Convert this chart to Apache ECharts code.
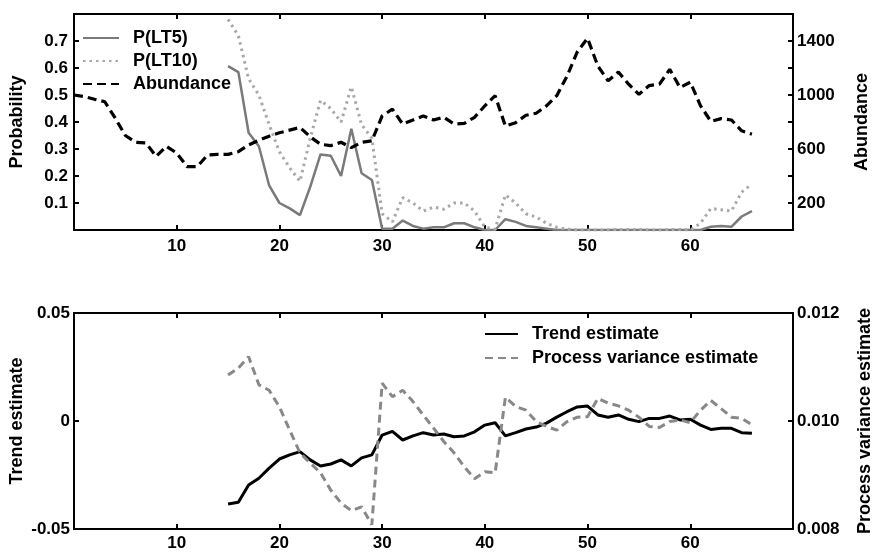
<!DOCTYPE html>
<html>
<head>
<meta charset="utf-8">
<script src="https://cdn.jsdelivr.net/npm/echarts@6/dist/echarts.min.js"></script>
<style>
    html, body { margin: 0; padding: 0; background: #fff; }
    #main { width: 872px; height: 554px; }
</style>
</head>
<body>
<div id="main"></div>
<script>
// years start at 0 for abundance, at 15 for the model estimates
var abundanceStart = 0;
var estimateStart = 15;

var abundance = [1000, 988, 968, 950, 830, 700, 650, 645, 545, 620, 570, 470, 470, 555, 560,
    560, 580, 630, 665, 695, 720, 740, 760, 690, 635, 625, 650, 610, 650, 660,
    845, 895, 785, 815, 845, 815, 835, 785, 790, 835, 920, 995, 770, 795, 850,
    865, 920, 995, 1140, 1320, 1420, 1215, 1105, 1170, 1080, 1005, 1070, 1080, 1190, 1055,
    1095, 920, 805, 825, 815, 735, 710];

var pLT5 = [0.607, 0.585, 0.36, 0.31, 0.165, 0.10, 0.08, 0.055, 0.16, 0.28,
    0.275, 0.20, 0.375, 0.21, 0.185, 0.005, 0.005, 0.035, 0.015, 0.005,
    0.01, 0.01, 0.025, 0.025, 0.01, 0, 0, 0.04, 0.03, 0.015,
    0.01, 0.005, 0, 0, 0, 0, 0, 0, 0, 0,
    0, 0, 0, 0, 0, 0, 0, 0.012, 0.015, 0.012,
    0.05, 0.07];

var pLT10 = [0.78, 0.72, 0.56, 0.5, 0.39, 0.29, 0.23, 0.18, 0.34, 0.48,
    0.45, 0.40, 0.53, 0.39, 0.34, 0.06, 0.03, 0.12, 0.10, 0.07,
    0.085, 0.077, 0.10, 0.10, 0.07, 0.01, 0.003, 0.13, 0.10, 0.06,
    0.048, 0.025, 0.01, 0.003, 0, 0, 0, 0, 0.002, 0.002,
    0.002, 0, 0, 0.002, 0.002, 0, 0.025, 0.08, 0.075, 0.07,
    0.14, 0.17];

var trend = [-0.0384, -0.0376, -0.0296, -0.0265, -0.0218, -0.0176, -0.0157, -0.0142, -0.018, -0.0208,
    -0.0199, -0.018, -0.0208, -0.0171, -0.0157, -0.0065, -0.0048, -0.0088, -0.0069, -0.0054,
    -0.0065, -0.006, -0.0073, -0.0069, -0.005, -0.0019, -0.0008, -0.0069, -0.0054, -0.0037,
    -0.0028, -0.001, 0.0018, 0.0043, 0.0065, 0.0069, 0.0028, 0.0017, 0.0028, 0.0008,
    -0.0003, 0.0012, 0.0012, 0.0023, 0.0005, 0.0008, -0.0019, -0.0039, -0.0034, -0.0034,
    -0.0054, -0.0057];

var procVar = [0.01085, 0.01098, 0.01119, 0.01067, 0.01057, 0.01026, 0.00983, 0.00941, 0.00922, 0.00904,
    0.00872, 0.00848, 0.00834, 0.00841, 0.00808, 0.0107, 0.01045, 0.01057, 0.01036, 0.01011,
    0.00987, 0.00962, 0.00941, 0.00915, 0.00893, 0.00906, 0.00904, 0.01044, 0.01027, 0.0102,
    0.00999, 0.0099, 0.00983, 0.00999, 0.01007, 0.01008, 0.01042, 0.01033, 0.01028, 0.0102,
    0.01007, 0.0099, 0.00988, 0.00999, 0.01002, 0.00997, 0.0102, 0.01038, 0.01023, 0.01007,
    0.01005, 0.00993];

var xTicks = [10, 20, 30, 40, 50, 60];
var abundanceLabels = [200, 600, 1000, 1400];

function toPairs(start, values) {
    return values.map(function (v, i) {
        return [start + i, v];
    });
}

var font = 'Liberation Sans, Arial, sans-serif';
var tickFont = { fontFamily: font, fontWeight: 'bold', fontSize: 17, color: '#000' };
var nameFont = { fontFamily: font, fontWeight: 'bold', fontSize: 18, color: '#000' };
var legendFont = { fontFamily: font, fontWeight: 'bold', fontSize: 18, color: '#000', padding: [0, 0, 0, 9] };
var tickStyle = { show: true, inside: true, length: 5, lineStyle: { color: '#000', width: 2 } };

function xAxisFor(gridIndex, pos, margin) {
    return {
        type: 'value', gridIndex: gridIndex, position: pos,
        min: 0, max: 70, interval: 10,
        axisLine: { show: false, onZero: false },
        axisTick: tickStyle,
        splitLine: { show: false },
        axisLabel: {
            show: pos === 'bottom', margin: margin, fontFamily: font, fontWeight: 'bold', fontSize: 17, color: '#000',
            formatter: function (v) { return xTicks.indexOf(v) >= 0 ? String(v) : ''; }
        }
    };
}

function yAxisFor(gridIndex, pos, min, max, interval, name, gap, margin, fmt) {
    return {
        type: 'value', gridIndex: gridIndex, position: pos,
        min: min, max: max, interval: interval,
        name: name, nameLocation: 'middle', nameGap: gap, nameRotate: 90,
        nameMoveOverlap: false, nameTextStyle: nameFont,
        axisLine: { show: false, onZero: false }, axisTick: tickStyle, splitLine: { show: false },
        axisLabel: Object.assign({ margin: margin, formatter: fmt }, tickFont)
    };
}

var myChart = echarts.init(document.getElementById('main'));

var option = {
    animation: false,
    backgroundColor: '#fff',
    grid: [
        { left: 74, right: 79, top: 14, height: 216, show: true, borderColor: '#000', borderWidth: 2, outerBoundsMode: 'none' },
        { left: 74, right: 79, top: 313, height: 216, show: true, borderColor: '#000', borderWidth: 2, outerBoundsMode: 'none' }
    ],
    legend: [
        {
            data: ['P(LT5)', 'P(LT10)', 'Abundance'],
            orient: 'vertical', left: 77, top: 24,
            itemWidth: 36, itemHeight: 12, itemGap: 5,
            itemStyle: { opacity: 0 },
            textStyle: legendFont
        },
        {
            data: ['Trend estimate', 'Process variance estimate'],
            orient: 'vertical', left: 479, top: 320,
            itemWidth: 33, itemHeight: 12, itemGap: 6,
            itemStyle: { opacity: 0 },
            textStyle: legendFont
        }
    ],
    xAxis: [
        xAxisFor(0, 'bottom', 8),
        xAxisFor(0, 'top', 8),
        xAxisFor(1, 'bottom', 6),
        xAxisFor(1, 'top', 6)
    ],
    yAxis: [
        yAxisFor(0, 'left', 0, 0.8, 0.1, 'Probability', 48, 6, function (v) {
            return (v < 0.05 || v > 0.75) ? '' : v.toFixed(1);
        }),
        yAxisFor(0, 'right', 0, 1600, 200, 'Abundance', 60, 4, function (v) {
            return abundanceLabels.indexOf(v) >= 0 ? String(v) : '';
        }),
        yAxisFor(1, 'left', -0.05, 0.05, 0.05, 'Trend estimate', 48, 4, function (v) {
            return Math.abs(v) < 1e-9 ? '0' : v.toFixed(2);
        }),
        yAxisFor(1, 'right', 0.008, 0.012, 0.002, 'Process variance estimate', 63, 4, function (v) {
            return v.toFixed(3);
        })
    ],
    series: [
        {
            name: 'P(LT5)', type: 'line', xAxisIndex: 0, yAxisIndex: 0,
            data: toPairs(estimateStart, pLT5), symbol: 'none',
            lineStyle: { color: '#7a7a7a', width: 2.5 }, itemStyle: { color: '#7a7a7a' }
        },
        {
            name: 'P(LT10)', type: 'line', xAxisIndex: 0, yAxisIndex: 0,
            data: toPairs(estimateStart, pLT10), symbol: 'none',
            lineStyle: { color: '#a8a8a8', width: 3, type: [2.5, 4] }, itemStyle: { color: '#a8a8a8' }
        },
        {
            name: 'Abundance', type: 'line', xAxisIndex: 0, yAxisIndex: 1,
            data: toPairs(abundanceStart, abundance), symbol: 'none',
            lineStyle: { color: '#000', width: 3.2, type: [9, 5] }, itemStyle: { color: '#000' }
        },
        {
            name: 'Trend estimate', type: 'line', xAxisIndex: 2, yAxisIndex: 2,
            data: toPairs(estimateStart, trend), symbol: 'none',
            lineStyle: { color: '#000', width: 3 }, itemStyle: { color: '#000' }
        },
        {
            name: 'Process variance estimate', type: 'line', xAxisIndex: 2, yAxisIndex: 3,
            data: toPairs(estimateStart, procVar), symbol: 'none',
            lineStyle: { color: '#888', width: 3, type: [8, 5] }, itemStyle: { color: '#888' }
        }
    ]
};

myChart.setOption(option);
</script>
</body>
</html>
